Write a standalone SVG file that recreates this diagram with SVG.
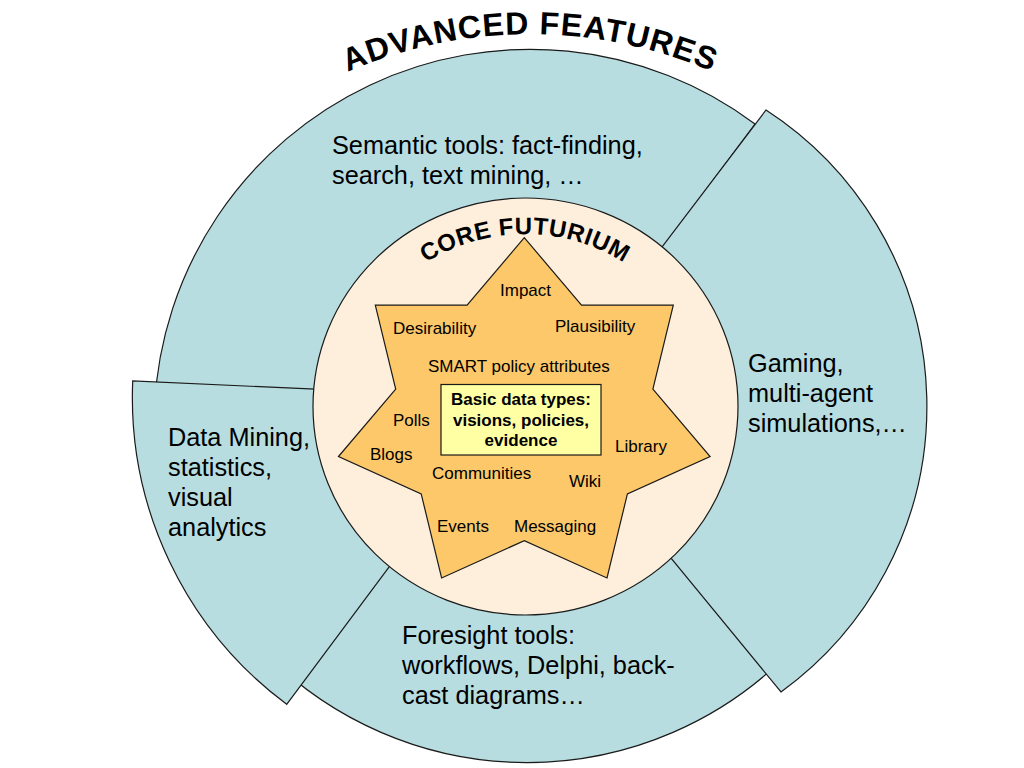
<svg xmlns="http://www.w3.org/2000/svg" width="1024" height="768" viewBox="0 0 1024 768">
  <style>
    .seg { fill: #b7dde0; stroke: #1a1a1a; stroke-width: 1.2; stroke-linejoin: miter; }
    .core { fill: #fdefdc; stroke: #1a1a1a; stroke-width: 1.2; }
    .star { fill: #fcc86a; stroke: #1a1a1a; stroke-width: 1.2; }
    .box { fill: #ffffa4; stroke: #1a1a1a; stroke-width: 1.2; }
    .big { font-family: "Liberation Sans", Arial, sans-serif; font-size: 25.3px; fill: #000; }
    .small { font-family: "Liberation Sans", Arial, sans-serif; font-size: 17px; fill: #000; }
    .boxt { font-family: "Liberation Sans", Arial, sans-serif; font-size: 17px; font-weight: bold; fill: #000; text-anchor: middle; }
    .arc { font-family: "Liberation Sans", Arial, sans-serif; font-weight: bold; fill: #000; text-anchor: middle; }
  </style>
  <defs>
    <path id="titleArc" d="M 70,494 A 460 460 0 0 1 990,494"/>
    <path id="coreArc" d="M 339,420 A 186 186 0 0 1 711,420"/>
  </defs>
  <rect width="1024" height="768" fill="#ffffff"/>

  <g id="seg-top">
    <path class="seg" d="M 755,124 A 376 376 0 0 0 154.5,407 L 529.5,426.5 Z"/>
    <text class="big" x="332" y="154">Semantic tools: fact-finding,</text>
    <text class="big" x="332" y="184">search, text mining, …</text>
  </g>
  <g id="seg-bottom">
    <path class="seg" d="M 787,655 A 368 368 0 0 1 267,655 L 527,395 Z"/>
    <text class="big" x="402" y="644">Foresight tools:</text>
    <text class="big" x="402" y="674">workflows, Delphi, back-</text>
    <text class="big" x="402" y="704">cast diagrams…</text>
  </g>
  <g id="seg-left">
    <path class="seg" d="M 132.7,381 A 383 383 0 0 0 286.7,704.3 L 515,398 Z"/>
    <text class="big" x="168" y="446">Data Mining,</text>
    <text class="big" x="168" y="476">statistics,</text>
    <text class="big" x="168" y="506">visual</text>
    <text class="big" x="168" y="536">analytics</text>
  </g>
  <g id="seg-right">
    <path class="seg" d="M 766,110 A 353 353 0 0 1 781,692 L 543.6,403 Z"/>
    <text class="big" x="748" y="372">Gaming,</text>
    <text class="big" x="748" y="402">multi-agent</text>
    <text class="big" x="748" y="432">simulations,…</text>
  </g>

  <g id="title">
    <text class="arc" font-size="32" letter-spacing="1"><textPath href="#titleArc" startOffset="50%">ADVANCED FEATURES</textPath></text>
  </g>

  <g id="core">
    <ellipse class="core" cx="525.5" cy="406.5" rx="212.5" ry="208.5"/>
    <text class="arc" font-size="24" letter-spacing="0.6"><textPath href="#coreArc" startOffset="50%">CORE FUTURIUM</textPath></text>
  </g>

  <g id="star">
    <path class="star" d="M 338.5,456.5 L 395.7,389.1 L 375.3,305.1 L 467.1,305.1 L 524.3,237.7 L 581.5,305.1 L 673.3,305.1 L 652.9,389.1 L 710.1,456.5 L 627.4,493.9 L 607,578 L 524.3,540.6 L 441.6,578 L 421.2,493.9 Z"/>
    <text class="small" x="500" y="296">Impact</text>
    <text class="small" x="393" y="333.5">Desirability</text>
    <text class="small" x="555" y="331.5">Plausibility</text>
    <text class="small" x="428" y="371.5">SMART policy attributes</text>
    <text class="small" x="393" y="426">Polls</text>
    <text class="small" x="370" y="460">Blogs</text>
    <text class="small" x="615" y="451.5">Library</text>
    <text class="small" x="432" y="479">Communities</text>
    <text class="small" x="569" y="487">Wiki</text>
    <text class="small" x="437" y="532">Events</text>
    <text class="small" x="514" y="532">Messaging</text>
  </g>

  <g id="box">
    <rect class="box" x="441" y="384.5" width="160" height="70.5"/>
    <text class="boxt" x="521" y="405">Basic data types:</text>
    <text class="boxt" x="521" y="425.5">visions, policies,</text>
    <text class="boxt" x="521" y="446">evidence</text>
  </g>

  <g id="connectors"/>
</svg>
